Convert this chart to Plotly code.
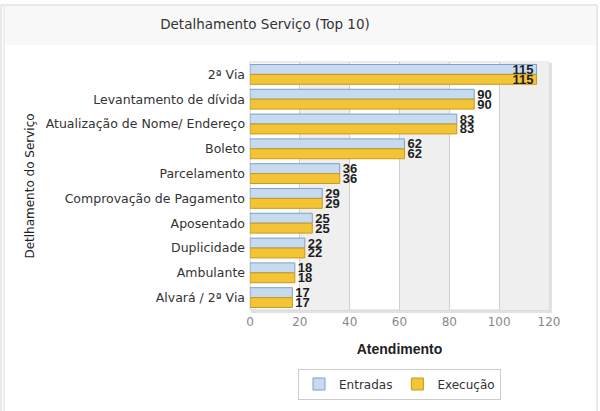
import plotly.graph_objects as go

categories = ["2ª Via", "Levantamento de dívida", "Atualização de Nome/ Endereço", "Boleto",
              "Parcelamento", "Comprovação de Pagamento", "Aposentado", "Duplicidade",
              "Ambulante", "Alvará / 2ª Via"]
entradas = [115, 90, 83, 62, 36, 29, 25, 22, 18, 17]
execucao = [115, 90, 83, 62, 36, 29, 25, 22, 18, 17]
x_ticks = [0, 20, 40, 60, 80, 100, 120]

W, H = 600, 411
L, R, T, B = 250, 51, 62, 101
pw, ph = W - L - R, H - T - B

def px_x(p):
    return (p - L) / pw

def px_y(p):
    return (H - B - p) / ph

def pos(vals, thr=110):
    return ["inside" if v >= thr else "outside" for v in vals]

label_font = dict(family="Arial", size=13, color="#1e1e1e", weight="bold")

fig = go.Figure()
fig.add_trace(go.Bar(
    y=categories, x=entradas, name="Entradas", orientation="h",
    marker=dict(color="#c6dbf0", line=dict(color="#7f9fc6", width=1)),
    text=[str(v) for v in entradas], textposition=pos(entradas),
    insidetextanchor="end", textfont=label_font, cliponaxis=False,
))
fig.add_trace(go.Bar(
    y=categories, x=execucao, name="Execução", orientation="h",
    marker=dict(color="#f3c436", line=dict(color="#c89a1c", width=1)),
    text=[str(v) for v in execucao], textposition=pos(execucao),
    insidetextanchor="end", textfont=label_font, cliponaxis=False,
))

shapes = []
# panel frame
shapes.append(dict(type="rect", xref="paper", yref="paper", layer="below",
                   x0=px_x(1), x1=px_x(597), y0=px_y(415), y1=px_y(5),
                   line=dict(color="#d2d2d2", width=1), fillcolor="white"))
shapes.append(dict(type="rect", xref="paper", yref="paper", layer="below",
                   x0=px_x(5), x1=px_x(596), y0=px_y(45), y1=px_y(6),
                   line=dict(width=0), fillcolor="#f8f8f8"))
shapes.append(dict(type="line", xref="paper", yref="paper", layer="below",
                   x0=px_x(4), x1=px_x(4), y0=px_y(415), y1=px_y(6),
                   line=dict(color="#dcdcdc", width=1)))
# plot shadow and frame
shapes.append(dict(type="rect", xref="paper", yref="paper", layer="below",
                   x0=px_x(251), x1=px_x(552), y0=px_y(313), y1=px_y(63),
                   line=dict(width=0), fillcolor="#e2e2e2"))
shapes.append(dict(type="rect", xref="paper", yref="paper", layer="below",
                   x0=0, x1=1, y0=0, y1=1,
                   line=dict(color="#d6d6d6", width=1), fillcolor="white"))
# alternating bands
for a in (20, 60, 100):
    shapes.append(dict(type="rect", xref="x", yref="paper", layer="below",
                       x0=a, x1=a + 20, y0=0, y1=1,
                       line=dict(width=0), fillcolor="#efefef"))

fig.update_layout(
    width=W, height=H,
    margin=dict(l=L, r=R, t=T, b=B),
    paper_bgcolor="white", plot_bgcolor="rgba(0,0,0,0)",
    barmode="group", bargap=0.2, bargroupgap=0,
    showlegend=True,
    title=dict(text="Detalhamento Serviço (Top 10)", x=265 / W, xref="container",
               xanchor="center", y=1 - 24 / H, yanchor="middle",
               font=dict(family="DejaVu Sans", size=13.5, color="#333333")),
    xaxis=dict(range=[0, 120], tickvals=x_ticks, showgrid=True, gridcolor="#d0d0d0",
               gridwidth=1, zeroline=False, showline=False,
               tickfont=dict(family="DejaVu Sans", size=12, color="#888888"),
               ticks="", ticklen=0, ticklabelstandoff=3,
               title=dict(text="<b>Atendimento</b>", standoff=16,
                          font=dict(family="Arial", size=14, color="#222222"))),
    yaxis=dict(categoryorder="array", categoryarray=categories, autorange="reversed",
               showgrid=False, showline=False, zeroline=False, ticks="",
               tickfont=dict(family="DejaVu Sans", size=12.5, color="#333333"),
               ticksuffix=" ",
               title=dict(text="Detlhamento do Serviço", standoff=8,
                          font=dict(family="DejaVu Sans", size=12, color="#222222"))),
    legend=dict(orientation="h", x=0.5, xanchor="center", y=px_y(384), yanchor="middle",
                bgcolor="white", bordercolor="#cccccc", borderwidth=1,
                font=dict(family="DejaVu Sans", size=12, color="#333333")),
    shapes=shapes,
    uniformtext=dict(minsize=12, mode="show"),
)

fig.write_html("out.html", config={"displayModeBar": False},
               post_script="document.body.style.margin='0';")
